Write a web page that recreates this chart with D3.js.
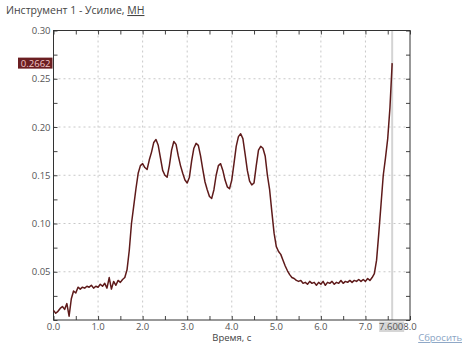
<!DOCTYPE html>
<html>
<head>
<meta charset="utf-8">
<script src="https://cdn.jsdelivr.net/npm/d3@7"></script>
<style>
  body { margin: 0; background: #fff; }
  svg text { font-family: "Open Sans", sans-serif; }
</style>
</head>
<body>
<div id="chart"></div>
<script>
// time samples, seconds
var times = [
  0.00, 0.05, 0.10, 0.15, 0.20, 0.25, 0.30, 0.35, 0.40, 0.45,
  0.50, 0.55, 0.60, 0.65, 0.70, 0.75, 0.80, 0.85, 0.90, 0.95,
  1.00, 1.05, 1.10, 1.15, 1.20, 1.25, 1.30, 1.35, 1.40, 1.45,
  1.50, 1.55, 1.60, 1.65, 1.70, 1.75, 1.80, 1.85, 1.90, 1.95,
  2.00, 2.05, 2.10, 2.15, 2.20, 2.25, 2.30, 2.35, 2.40, 2.45,
  2.50, 2.55, 2.60, 2.65, 2.70, 2.75, 2.80, 2.85, 2.90, 2.95,
  3.00, 3.05, 3.10, 3.15, 3.20, 3.25, 3.30, 3.35, 3.40, 3.45,
  3.50, 3.55, 3.60, 3.65, 3.70, 3.75, 3.80, 3.85, 3.90, 3.95,
  4.00, 4.05, 4.10, 4.15, 4.20, 4.25, 4.30, 4.35, 4.40, 4.45,
  4.50, 4.55, 4.60, 4.65, 4.70, 4.75, 4.80, 4.85, 4.90, 4.95,
  5.00, 5.05, 5.10, 5.15, 5.20, 5.25, 5.30, 5.35, 5.40, 5.45,
  5.50, 5.55, 5.60, 5.65, 5.70, 5.75, 5.80, 5.85, 5.90, 5.95,
  6.00, 6.05, 6.10, 6.15, 6.20, 6.25, 6.30, 6.35, 6.40, 6.45,
  6.50, 6.55, 6.60, 6.65, 6.70, 6.75, 6.80, 6.85, 6.90, 6.95,
  7.00, 7.05, 7.10, 7.15, 7.20, 7.25, 7.30, 7.35, 7.40, 7.45,
  7.50, 7.55, 7.60
];

// force, MN
var force = [
  0.010, 0.007, 0.009, 0.012, 0.014, 0.011, 0.017, 0.004, 0.022, 0.030,
  0.028, 0.034, 0.032, 0.034, 0.033, 0.035, 0.034, 0.036, 0.033, 0.035,
  0.034, 0.037, 0.035, 0.038, 0.033, 0.044, 0.032, 0.040, 0.036, 0.041,
  0.039, 0.042, 0.044, 0.052, 0.072, 0.100, 0.118, 0.136, 0.152, 0.160,
  0.162, 0.158, 0.156, 0.166, 0.174, 0.184, 0.187, 0.181, 0.168, 0.155,
  0.150, 0.148, 0.160, 0.176, 0.185, 0.182, 0.170, 0.160, 0.152, 0.145,
  0.142, 0.148, 0.165, 0.178, 0.183, 0.181, 0.170, 0.156, 0.143, 0.135,
  0.128, 0.126, 0.135, 0.150, 0.160, 0.162, 0.155, 0.145, 0.138, 0.136,
  0.145, 0.162, 0.180, 0.190, 0.193, 0.188, 0.172, 0.155, 0.144, 0.140,
  0.142, 0.160, 0.176, 0.180, 0.178, 0.170, 0.150, 0.135, 0.112, 0.090,
  0.076, 0.071, 0.068, 0.062, 0.056, 0.051, 0.047, 0.044, 0.043, 0.041,
  0.040, 0.041, 0.038, 0.039, 0.037, 0.040, 0.038, 0.039, 0.036, 0.039,
  0.037, 0.040, 0.036, 0.039, 0.038, 0.040, 0.037, 0.039, 0.038, 0.041,
  0.038, 0.040, 0.039, 0.041, 0.039, 0.041, 0.040, 0.042, 0.040, 0.042,
  0.040, 0.043, 0.041, 0.044, 0.048, 0.062, 0.090, 0.120, 0.150, 0.168,
  0.188, 0.220, 0.2662
];

var xTicks = [0, 1, 2, 3, 4, 5, 6, 7, 8];
var yTicks = [0.05, 0.10, 0.15, 0.20, 0.25, 0.30];
var cursorTime = 7.6;
var cursorValue = 0.2662;

var W = 464, H = 344;
var margin = { top: 30.5, right: 54, bottom: 24, left: 53.5 };

var svg = d3.select("#chart").append("svg")
  .attr("width", W)
  .attr("height", H);

var x = d3.scaleLinear().domain([0, 8]).range([margin.left, W - margin.right]);
var y = d3.scaleLinear().domain([0, 0.30]).range([H - margin.bottom, margin.top]);

var x0 = x.range()[0], x1 = x.range()[1];
var y0 = y.range()[0], y1 = y.range()[1];

// title
var title = svg.append("text")
  .attr("x", 6)
  .attr("y", 14)
  .attr("font-size", 10.5)
  .attr("fill", "#444");
title.append("tspan").text("Инструмент 1 - Усилие, ");
title.append("tspan").text("МН").attr("text-decoration", "underline");

// grid
svg.append("g")
  .selectAll("line")
  .data(xTicks.slice(1, -1))
  .enter().append("line")
  .attr("x1", function(d) { return x(d); })
  .attr("x2", function(d) { return x(d); })
  .attr("y1", y1)
  .attr("y2", y0)
  .attr("stroke", "#c8c8c8")
  .attr("stroke-dasharray", "2,3");

svg.append("g")
  .selectAll("line")
  .data(yTicks.slice(0, -1))
  .enter().append("line")
  .attr("x1", x0)
  .attr("x2", x1)
  .attr("y1", function(d) { return y(d); })
  .attr("y2", function(d) { return y(d); })
  .attr("stroke", "#c8c8c8")
  .attr("stroke-dasharray", "2,3");

// cursor
svg.append("line")
  .attr("x1", x(cursorTime))
  .attr("x2", x(cursorTime))
  .attr("y1", y1)
  .attr("y2", y0)
  .attr("stroke", "#d4d4d4")
  .attr("stroke-width", 2);

// axes, ticks pointing inward
var xMinor = d3.range(0, 8.01, 0.5);
var yMinor = d3.range(0, 0.3001, 0.025);

function inkTicks(g) {
  g.select(".domain").remove();
  g.selectAll("line").attr("stroke", "#444");
}

svg.append("g")
  .attr("transform", "translate(0," + y0 + ")")
  .call(d3.axisTop(x).tickValues(xMinor).tickSize(4).tickFormat(""))
  .call(inkTicks);

svg.append("g")
  .attr("transform", "translate(0," + y1 + ")")
  .call(d3.axisBottom(x).tickValues(xMinor).tickSize(4).tickFormat(""))
  .call(inkTicks);

svg.append("g")
  .attr("transform", "translate(" + x0 + ",0)")
  .call(d3.axisRight(y).tickValues(yMinor).tickSize(4).tickFormat(""))
  .call(inkTicks);

svg.append("g")
  .attr("transform", "translate(" + x1 + ",0)")
  .call(d3.axisLeft(y).tickValues(yMinor).tickSize(4).tickFormat(""))
  .call(inkTicks);

// frame
svg.append("rect")
  .attr("x", x0)
  .attr("y", y1)
  .attr("width", x1 - x0)
  .attr("height", y0 - y1)
  .attr("fill", "none")
  .attr("stroke", "#333");

// tick labels
svg.append("g")
  .selectAll("text")
  .data(xTicks)
  .enter().append("text")
  .attr("x", function(d) { return x(d); })
  .attr("y", y0 + 9.5)
  .attr("text-anchor", "middle")
  .attr("font-size", 9.5)
  .attr("fill", "#555")
  .text(function(d) { return d3.format(".1f")(d); });

svg.append("g")
  .selectAll("text")
  .data([0.30, 0.25, 0.20, 0.15, 0.10, 0.05])
  .enter().append("text")
  .attr("x", x0 - 3)
  .attr("y", function(d) { return y(d) + 3.5; })
  .attr("text-anchor", "end")
  .attr("font-size", 9.5)
  .attr("fill", "#555")
  .text(function(d) { return d3.format(".2f")(d); });

// force line
var pts = times.map(function(t, i) { return [t, force[i]]; });
svg.append("path")
  .datum(pts)
  .attr("fill", "none")
  .attr("stroke", "#5e1a1a")
  .attr("stroke-width", 1.5)
  .attr("stroke-linejoin", "round")
  .attr("d", d3.line()
    .x(function(d) { return x(d[0]); })
    .y(function(d) { return y(d[1]); }));

// cursor value labels
svg.append("rect")
  .attr("x", 18)
  .attr("y", y(cursorValue) - 5.5)
  .attr("width", x0 - 19)
  .attr("height", 11)
  .attr("fill", "#6b1f22");
svg.append("text")
  .attr("x", x0 - 3)
  .attr("y", y(cursorValue) + 3.5)
  .attr("text-anchor", "end")
  .attr("font-size", 9.5)
  .attr("fill", "#f2c8c8")
  .text(d3.format(".4f")(cursorValue));

svg.append("rect")
  .attr("x", x(cursorTime) - 13)
  .attr("y", y0 + 1.5)
  .attr("width", 25)
  .attr("height", 10.5)
  .attr("fill", "#d6d6d6");
svg.append("text")
  .attr("x", x(cursorTime) - 1)
  .attr("y", y0 + 9.5)
  .attr("text-anchor", "middle")
  .attr("font-size", 9.5)
  .attr("fill", "#555")
  .text(d3.format(".3f")(cursorTime));

// x axis title
svg.append("text")
  .attr("x", (x0 + x1) / 2)
  .attr("y", H - 3)
  .attr("text-anchor", "middle")
  .attr("font-size", 9.5)
  .attr("fill", "#444")
  .text("Время, с");

// reset link
svg.append("text")
  .attr("x", W - 2)
  .attr("y", H - 3)
  .attr("text-anchor", "end")
  .attr("font-size", 9.5)
  .attr("fill", "#8aa4c4")
  .attr("text-decoration", "underline")
  .text("Сбросить");
</script>
</body>
</html>
